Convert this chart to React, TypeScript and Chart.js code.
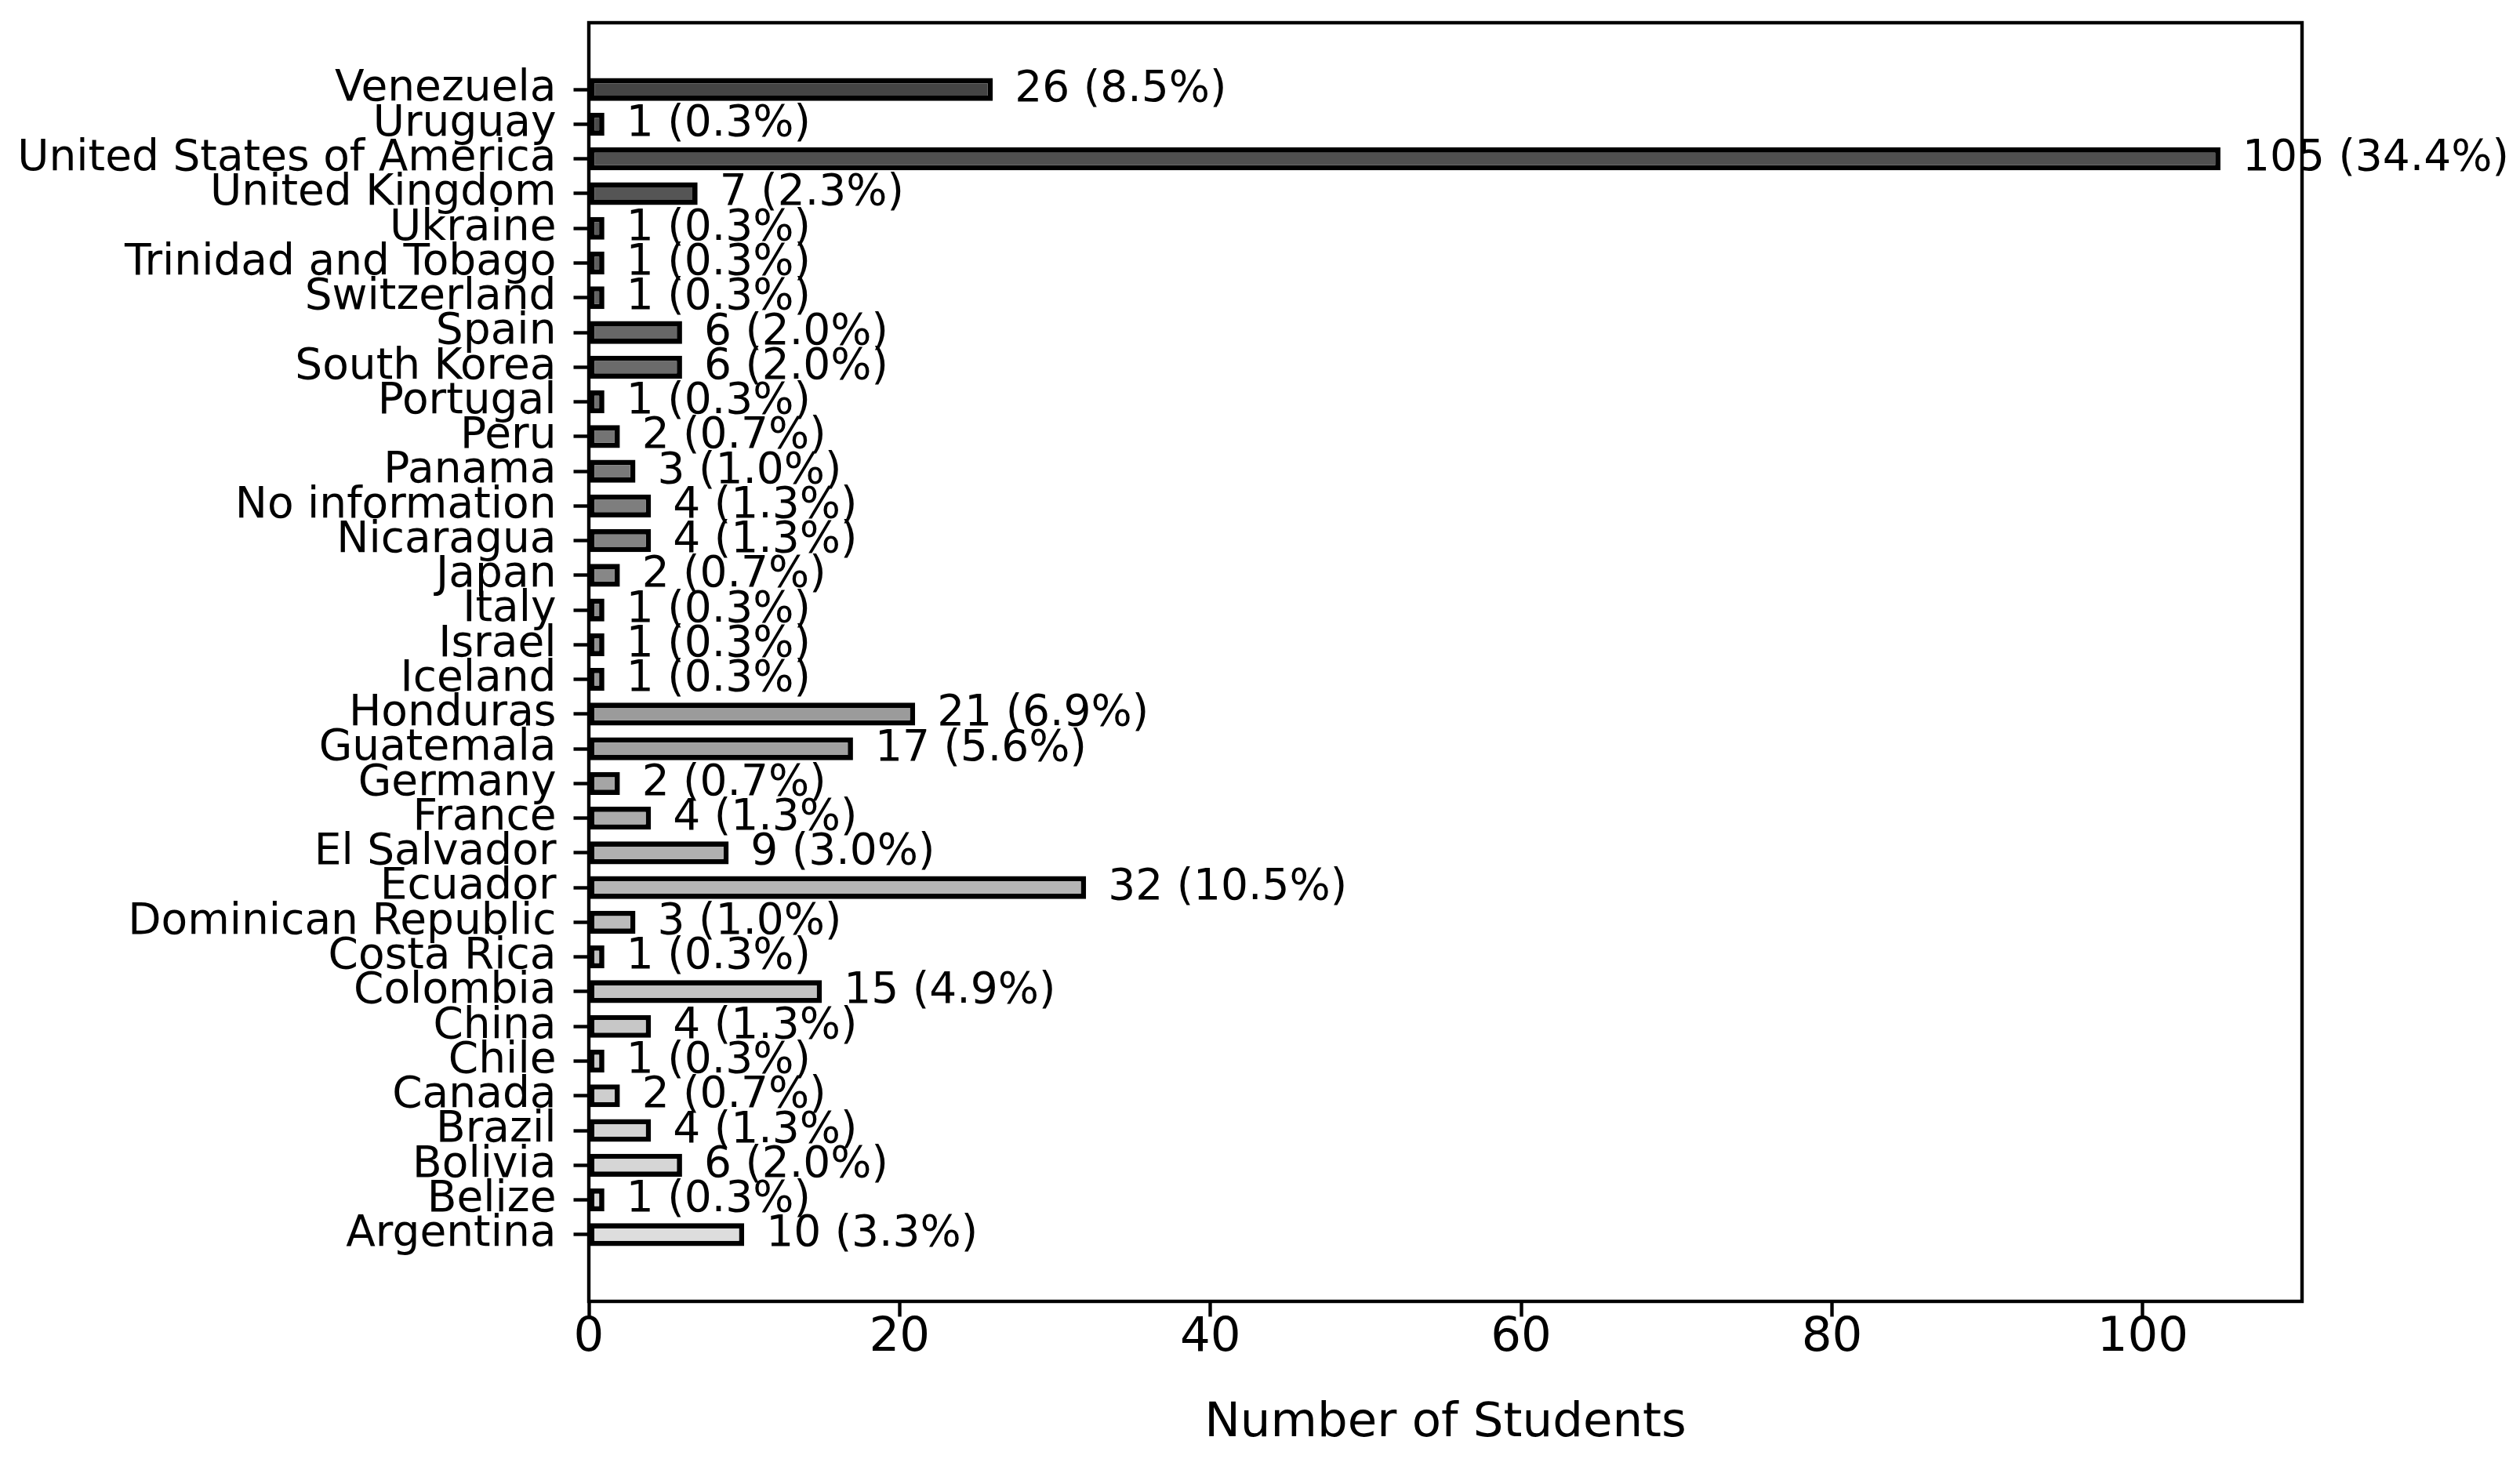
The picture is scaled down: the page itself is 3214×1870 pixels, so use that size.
import React, { useEffect, useRef } from "react";
import { Chart, registerables } from "chart.js";

Chart.register(...registerables);

const countries: string[] = [
  "Venezuela", "Uruguay", "United States of America", "United Kingdom", "Ukraine",
  "Trinidad and Tobago", "Switzerland", "Spain", "South Korea", "Portugal", "Peru",
  "Panama", "No information", "Nicaragua", "Japan", "Italy", "Israel", "Iceland",
  "Honduras", "Guatemala", "Germany", "France", "El Salvador", "Ecuador",
  "Dominican Republic", "Costa Rica", "Colombia", "China", "Chile", "Canada",
  "Brazil", "Bolivia", "Belize", "Argentina",
];

const students: number[] = [
  26, 1, 105, 7, 1, 1, 1, 6, 6, 1, 2, 3, 4, 4, 2, 1, 1, 1,
  21, 17, 2, 4, 9, 32, 3, 1, 15, 4, 1, 2, 4, 6, 1, 10,
];

const xTicks: number[] = [0, 20, 40, 60, 80, 100];
const xTitle = "Number of Students";

// matplotlib "Greys" colormap anchors (ColorBrewer)
const GREYS = [255, 240, 217, 189, 150, 115, 82, 37, 0];
function greys(t: number): string {
  const p = Math.max(0, Math.min(1, t)) * 8;
  const i = Math.min(7, Math.floor(p));
  const f = p - i;
  const v = Math.round(GREYS[i] + (GREYS[i + 1] - GREYS[i]) * f);
  return `rgb(${v},${v},${v})`;
}

const FONT = "DejaVu Sans";
const W = 3214;
const H = 1870;

export default function App() {
  const ref = useRef<HTMLCanvasElement | null>(null);

  useEffect(() => {
    document.body.style.margin = "0";
    const canvas = ref.current;
    if (!canvas) return;
    const n = countries.length;
    const colors = countries.map((_, i) => greys(0.79 - (0.56 * i) / (n - 1)));
    const total = students.reduce((a, b) => a + b, 0);

    const framePlugin = {
      id: "frame",
      afterDraw(chart: any) {
        const { ctx, chartArea } = chart;
        ctx.save();
        ctx.strokeStyle = "#000";
        ctx.lineWidth = 4.4;
        ctx.strokeRect(chartArea.left, chartArea.top, chartArea.right - chartArea.left, chartArea.bottom - chartArea.top);
        ctx.restore();
      },
    };

    const labelPlugin = {
      id: "valueLabels",
      afterDatasetsDraw(chart: any) {
        const { ctx } = chart;
        const meta = chart.getDatasetMeta(0);
        const xs = chart.scales.x;
        ctx.save();
        ctx.font = `55px "${FONT}"`;
        ctx.fillStyle = "#000";
        ctx.textAlign = "left";
        ctx.textBaseline = "alphabetic";
        meta.data.forEach((bar: any, i: number) => {
          const v = students[i];
          const text = `${v} (${((v / total) * 100).toFixed(1)}%)`;
          ctx.fillText(text, xs.getPixelForValue(v) + 28, bar.y + 14.5);
        });
        ctx.restore();
      },
    };

    const chart = new Chart(canvas, {
      type: "bar",
      data: {
        datasets: [
          {
            data: countries.map((_, i) => ({ x: students[i], y: i })),
            backgroundColor: colors,
            borderColor: "#000",
            borderWidth: 6.7,
            borderSkipped: false,
            barPercentage: 0.66,
            categoryPercentage: 1,
          } as any,
        ],
      },
      options: {
        indexAxis: "y",
        animation: false,
        responsive: false,
        devicePixelRatio: 1,
        layout: { padding: { top: 29, right: 278, left: 0, bottom: 0 } },
        plugins: { legend: { display: false }, tooltip: { enabled: false } },
        scales: {
          x: {
            type: "linear",
            position: "bottom",
            min: 0,
            max: 110.25,
            offset: false,
            afterBuildTicks: (s: any) => {
              s.ticks = xTicks.map((v) => ({ value: v }));
            },
            afterFit: (s: any) => {
              s.height = H - 1660;
              s.paddingLeft = 0;
              s.paddingRight = 0;
            },
            ticks: {
              font: { family: FONT, size: 61 },
              color: "#000",
              padding: -9,
              maxRotation: 0,
              autoSkip: false,
            },
            grid: {
              offset: false,
              drawOnChartArea: false,
              drawTicks: true,
              tickLength: 19.5,
              tickWidth: 4.4,
              tickColor: "#000",
            },
            border: { display: false },
            title: {
              display: true,
              text: xTitle,
              color: "#000",
              font: { family: FONT, size: 61 },
              padding: { top: 0, bottom: 17 },
            },
          },
          y: {
            type: "linear",
            reverse: true,
            min: -1.925,
            max: 34.925,
            offset: false,
            afterBuildTicks: (s: any) => {
              s.ticks = countries.map((_, i) => ({ value: i }));
            },
            afterFit: (s: any) => {
              s.width = 751;
              s.paddingTop = 0;
              s.paddingBottom = 0;
            },
            ticks: {
              callback: (v: any) => countries[v as number],
              autoSkip: false,
              font: { family: FONT, size: 55 },
              color: "#000",
              padding: 22,
            },
            grid: {
              offset: false,
              drawOnChartArea: false,
              drawTicks: true,
              tickLength: 19.5,
              tickWidth: 4.4,
              tickColor: "#000",
            },
            border: { display: false },
          },
        },
      } as any,
      plugins: [labelPlugin, framePlugin],
    });

    return () => chart.destroy();
  }, []);

  return (
    <div style={{ position: "fixed", left: 0, top: 0, width: W, height: H, background: "#fff" }}>
      <canvas ref={ref} width={W} height={H} style={{ width: W, height: H, display: "block" }} />
    </div>
  );
}
